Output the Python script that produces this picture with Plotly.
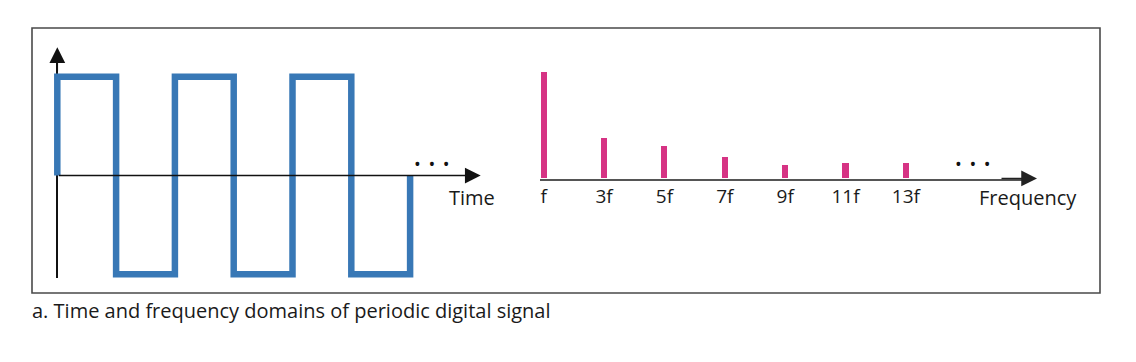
import plotly.graph_objects as go

# page body adds an 8px margin; the figure is sized to fill the rest of the window
OFF = 8
W, H = 1136 - OFF, 362 - OFF

# ---- data ----
# time domain: square-wave transition instants (half periods) and levels between them
edge_times = [0, 1, 2, 3, 4, 5, 6]
levels = [1, -1, 1, -1, 1, -1]

# frequency domain: odd harmonics and their relative amplitudes
harmonics = [1, 3, 5, 7, 9, 11, 13]
harmonic_labels = ["f", "3f", "5f", "7f", "9f", "11f", "13f"]
amplitudes = [1.0, 0.375, 0.30, 0.20, 0.13, 0.14, 0.14]

caption = "a. Time and frequency domains of periodic digital signal"

# ---- layout helpers (window pixel -> paper) ----
def fx(px):
    return (px - OFF) / W

def fy(py):
    return 1 - (py - OFF) / H

FONT = "Open Sans"
TXT = "#1a1a1a"
BLUE = "#3878b6"
PINK = "#d63384"

# time-domain axes geometry
t0_px, t_scale = 57.3, 58.8
tr = [-0.07, 7.0]
zero_py, y_scale = 175.5, 98.7
yr = [-1.04, 1.17]

# frequency-domain axes geometry
n1_px, n_scale = 543.7, 30.18
def n_at(px):
    return 1 + (px - n1_px) / n_scale
x2r = [n_at(540), n_at(1026)]
base_py, a_scale = 178.5, 106.6
y2r = [0, 1.12]

# square wave trace (hv steps)
wave_x = [edge_times[0]] + edge_times
wave_y = [0] + levels + [0]

fig = go.Figure()
fig.add_trace(go.Scatter(
    x=wave_x, y=wave_y, mode="lines", line=dict(shape="hv", color=BLUE, width=6.5),
    xaxis="x", yaxis="y", hoverinfo="skip", showlegend=False,
))
fig.add_trace(go.Bar(
    x=harmonics, y=amplitudes, width=0.2, marker=dict(color=PINK, line=dict(width=0)),
    xaxis="x2", yaxis="y2", hoverinfo="skip", showlegend=False,
))

ARW = dict(text="", showarrow=True, arrowhead=2, arrowsize=2.1, arrowwidth=1.5)
DOTS = "•&#8201; •&#8201; •"

annotations = [
    # time axis (horizontal) with arrow, drawn over the wave
    dict(x=7.2, y=0, ax=0, ay=0, xref="x", yref="y", axref="x", ayref="y",
         arrowcolor="#111", **ARW),
    # vertical arrow tip
    dict(x=0, y=1.30, ax=0, ay=1.04, xref="x", yref="y", axref="x", ayref="y",
         arrowcolor="#111", **ARW),
    # frequency axis arrow
    dict(x=n_at(1037), y=0, ax=n_at(1000), ay=0, xref="x2", yref="y2", axref="x2", ayref="y2",
         arrowcolor="#222", **ARW),
    # dots and labels
    dict(x=fx(432), y=fy(164), xref="paper", yref="paper", text=DOTS, showarrow=False,
         font=dict(family=FONT, size=18, color="#111"), xanchor="center", yanchor="middle"),
    dict(x=fx(973), y=fy(164), xref="paper", yref="paper", text=DOTS, showarrow=False,
         font=dict(family=FONT, size=18, color="#111"), xanchor="center", yanchor="middle"),
    dict(x=fx(472), y=fy(197), xref="paper", yref="paper", text="Time", showarrow=False,
         font=dict(family=FONT, size=20, color=TXT), xanchor="center", yanchor="middle"),
    dict(x=fx(1028), y=fy(197), xref="paper", yref="paper", text="Frequency", showarrow=False,
         font=dict(family=FONT, size=20, color=TXT), xanchor="center", yanchor="middle"),
    dict(x=fx(30), y=fy(310), xref="paper", yref="paper", text=caption, showarrow=False,
         font=dict(family=FONT, size=20, color=TXT), xanchor="left", yanchor="middle"),
]

fig.update_layout(
    width=W, height=H, margin=dict(l=0, r=0, t=0, b=0),
    paper_bgcolor="white", plot_bgcolor="rgba(0,0,0,0)",
    font=dict(family=FONT, color=TXT),
    bargap=0,
    xaxis=dict(domain=[fx(t0_px + tr[0] * t_scale), fx(t0_px + tr[1] * t_scale)], range=tr,
               showgrid=False, showticklabels=False, ticks="", showline=False,
               zeroline=True, zerolinecolor="#111", zerolinewidth=1.5, anchor="y", fixedrange=True),
    yaxis=dict(domain=[fy(zero_py - yr[0] * y_scale), fy(zero_py - yr[1] * y_scale)], range=yr,
               showgrid=False, showticklabels=False, ticks="", showline=False,
               zeroline=False, anchor="x", fixedrange=True),
    xaxis2=dict(domain=[fx(540), fx(1026)], range=x2r, anchor="y2",
                showgrid=False, zeroline=False, showline=True, linecolor="#555", linewidth=1.5,
                tickvals=harmonics, ticktext=harmonic_labels, ticks="",
                ticklabelstandoff=0, tickfont=dict(family=FONT, size=19, color=TXT), fixedrange=True),
    yaxis2=dict(domain=[fy(base_py), fy(base_py - y2r[1] * a_scale)], range=y2r, anchor="x2",
                visible=False, fixedrange=True),
    annotations=annotations,
    shapes=[dict(type="rect", xref="paper", yref="paper", x0=fx(32), x1=fx(1100),
                 y0=fy(293), y1=fy(28), line=dict(color="#4a4a4a", width=1.6))],
)

fig.write_html("out.html")
